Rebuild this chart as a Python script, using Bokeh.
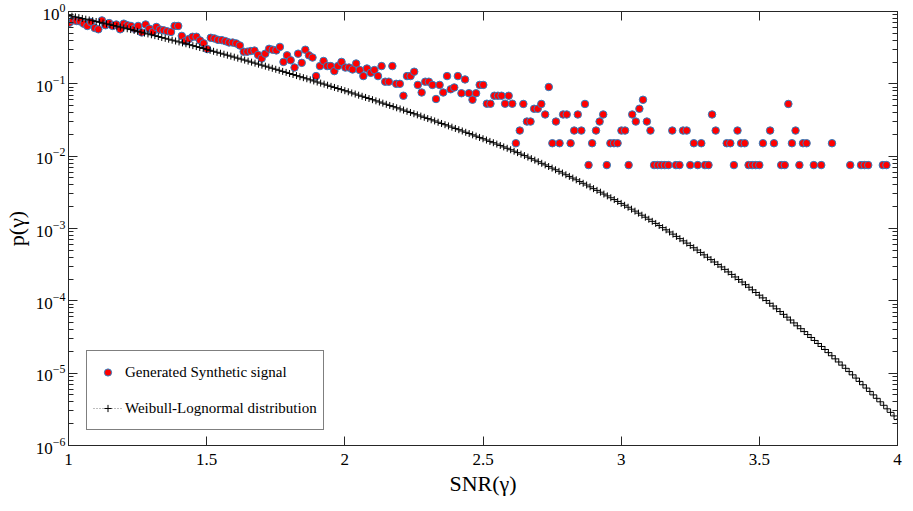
import numpy as np
from bokeh.plotting import figure
from bokeh.models import (LinearAxis, LogAxis, FixedTicker, Legend, LegendItem,
                          Range1d, CustomJSTickFormatter, LogTickFormatter)
from bokeh.embed import file_html
from bokeh.resources import INLINE

# ---------------- data ----------------
x_ticks = [1, 1.5, 2, 2.5, 3, 3.5, 4]
x_tick_labels = ["1", "1.5", "2", "2.5", "3", "3.5", "4"]
y_ticks = [1e-6, 1e-5, 1e-4, 1e-3, 1e-2, 1e-1, 1e0]

wl_x = np.linspace(1, 4, 241)
wl_log10p = [
    -0.055, -0.065, -0.075, -0.085, -0.096, -0.106, -0.117, -0.127, -0.138, -0.149, -0.160,
    -0.171, -0.182, -0.193, -0.204, -0.216, -0.227, -0.239, -0.250, -0.262, -0.274,
    -0.286, -0.298, -0.310, -0.322, -0.334, -0.346, -0.359, -0.371, -0.383, -0.396,
    -0.408, -0.421, -0.434, -0.446, -0.459, -0.472, -0.485, -0.498, -0.511, -0.524,
    -0.537, -0.550, -0.564, -0.577, -0.590, -0.604, -0.617, -0.631, -0.645, -0.658,
    -0.672, -0.686, -0.700, -0.714, -0.728, -0.742, -0.756, -0.770, -0.785, -0.799,
    -0.813, -0.828, -0.842, -0.857, -0.871, -0.886, -0.901, -0.915, -0.930, -0.945,
    -0.960, -0.975, -0.990, -1.004, -1.019, -1.035, -1.050, -1.065, -1.080, -1.095,
    -1.110, -1.126, -1.141, -1.157, -1.172, -1.188, -1.203, -1.219, -1.235, -1.251,
    -1.267, -1.283, -1.299, -1.315, -1.331, -1.347, -1.363, -1.380, -1.396, -1.413,
    -1.429, -1.446, -1.463, -1.480, -1.497, -1.513, -1.531, -1.548, -1.565, -1.582,
    -1.599, -1.617, -1.634, -1.652, -1.670, -1.687, -1.705, -1.723, -1.741, -1.759,
    -1.777, -1.796, -1.814, -1.833, -1.852, -1.872, -1.891, -1.911, -1.931, -1.951,
    -1.972, -1.992, -2.013, -2.034, -2.055, -2.077, -2.099, -2.121, -2.143, -2.165,
    -2.188, -2.210, -2.233, -2.257, -2.280, -2.303, -2.327, -2.351, -2.375, -2.399,
    -2.424, -2.449, -2.473, -2.498, -2.524, -2.549, -2.575, -2.600, -2.626, -2.653,
    -2.679, -2.706, -2.733, -2.760, -2.788, -2.816, -2.844, -2.872, -2.901, -2.930,
    -2.959, -2.988, -3.018, -3.048, -3.078, -3.109, -3.140, -3.171, -3.202, -3.234,
    -3.266, -3.298, -3.331, -3.364, -3.397, -3.430, -3.463, -3.497, -3.531, -3.565,
    -3.600, -3.635, -3.670, -3.705, -3.740, -3.776, -3.812, -3.848, -3.885, -3.922,
    -3.959, -3.996, -4.034, -4.072, -4.110, -4.148, -4.187, -4.226, -4.265, -4.305,
    -4.345, -4.385, -4.425, -4.466, -4.507, -4.548, -4.590, -4.631, -4.673, -4.716,
    -4.759, -4.802, -4.845, -4.889, -4.933, -4.978, -5.023, -5.068, -5.114, -5.160,
    -5.206, -5.253, -5.300, -5.348, -5.396, -5.444, -5.493, -5.542, -5.591, -5.641,
]
wl_p = [10 ** v for v in wl_log10p]

# Generated synthetic signal (histogram estimate), bins with zero count are absent
sig_x = [
    1.003, 1.016, 1.029, 1.042, 1.055, 1.068, 1.081, 1.095, 1.108, 1.121,
    1.134, 1.147, 1.160, 1.173, 1.187, 1.200, 1.213, 1.226, 1.239, 1.252,
    1.265, 1.279, 1.292, 1.305, 1.318, 1.331, 1.344, 1.357, 1.371, 1.384,
    1.397, 1.410, 1.423, 1.436, 1.449, 1.463, 1.476, 1.489, 1.502, 1.515,
    1.528, 1.541, 1.555, 1.568, 1.581, 1.594, 1.607, 1.620, 1.634, 1.647,
    1.660, 1.673, 1.686, 1.699, 1.712, 1.726, 1.739, 1.752, 1.765, 1.778,
    1.791, 1.804, 1.818, 1.831, 1.844, 1.857, 1.870, 1.883, 1.896, 1.910,
    1.923, 1.936, 1.949, 1.962, 1.975, 1.988, 2.002, 2.015, 2.028, 2.041,
    2.054, 2.067, 2.080, 2.094, 2.107, 2.120, 2.133, 2.146, 2.159, 2.172,
    2.186, 2.199, 2.212, 2.225, 2.238, 2.251, 2.264, 2.278, 2.291, 2.304,
    2.317, 2.330, 2.343, 2.356, 2.370, 2.383, 2.396, 2.409, 2.422, 2.435,
    2.449, 2.462, 2.475, 2.488, 2.501, 2.514, 2.527, 2.541, 2.554, 2.567,
    2.580, 2.593, 2.606, 2.619, 2.633, 2.646, 2.659, 2.672, 2.685, 2.698,
    2.711, 2.725, 2.738, 2.751, 2.764, 2.777, 2.790, 2.803, 2.817, 2.830,
    2.843, 2.856, 2.869, 2.882, 2.895, 2.909, 2.922, 2.935, 2.948, 2.961,
    2.974, 2.987, 3.001, 3.014, 3.027, 3.040, 3.053, 3.066, 3.079, 3.093,
    3.106, 3.119, 3.132, 3.145, 3.158, 3.171, 3.185, 3.198, 3.211, 3.224,
    3.237, 3.250, 3.263, 3.277, 3.290, 3.303, 3.316, 3.329, 3.342, 3.382,
    3.395, 3.408, 3.421, 3.434, 3.447, 3.461, 3.474, 3.487, 3.500, 3.513,
    3.539, 3.553, 3.579, 3.592, 3.605, 3.618, 3.631, 3.645, 3.658, 3.671,
    3.697, 3.724, 3.763, 3.829, 3.868, 3.881, 3.894, 3.947, 3.960,
]
sig_p = [
    0.700, 0.753, 0.741, 0.729, 0.679, 0.631, 0.714, 0.592, 0.568, 0.753,
    0.646, 0.692, 0.631, 0.661, 0.568, 0.679, 0.646, 0.631, 0.579, 0.631,
    0.513, 0.661, 0.579, 0.522, 0.611, 0.562, 0.550, 0.533, 0.522, 0.631,
    0.631, 0.460, 0.389, 0.417, 0.447, 0.447, 0.398, 0.363, 0.302, 0.433,
    0.424, 0.406, 0.402, 0.389, 0.373, 0.372, 0.362, 0.339, 0.278, 0.278,
    0.284, 0.288, 0.251, 0.224, 0.261, 0.305, 0.296, 0.290, 0.324, 0.201,
    0.248, 0.212, 0.168, 0.261, 0.195, 0.296, 0.248, 0.231, 0.128, 0.176,
    0.207, 0.176, 0.176, 0.150, 0.176, 0.201, 0.168, 0.168, 0.158, 0.191,
    0.155, 0.128, 0.163, 0.142, 0.155, 0.128, 0.176, 0.107, 0.107, 0.176,
    0.100, 0.100, 0.0684, 0.128, 0.128, 0.147, 0.0966, 0.0759, 0.107, 0.107,
    0.0966, 0.0617, 0.0966, 0.0759, 0.128, 0.0841, 0.0891, 0.128, 0.0741, 0.115,
    0.0741, 0.0603, 0.0741, 0.0966, 0.0966, 0.0531, 0.0531, 0.0684, 0.0684, 0.0684,
    0.0531, 0.0684, 0.0531, 0.0151, 0.0226, 0.0527, 0.0301, 0.0301, 0.0452, 0.0452,
    0.0527, 0.0377, 0.0904, 0.0151, 0.0301, 0.0151, 0.0377, 0.0377, 0.0151, 0.0226,
    0.0377, 0.0226, 0.0527, 0.00753, 0.0151, 0.0226, 0.0301, 0.0377, 0.00753, 0.0151,
    0.0151, 0.0151, 0.0226, 0.0226, 0.00753, 0.0377, 0.0301, 0.0452, 0.0602, 0.0301,
    0.0226, 0.00753, 0.00753, 0.00753, 0.00753, 0.00753, 0.0226, 0.00753, 0.00753, 0.0226,
    0.0226, 0.00753, 0.0151, 0.00753, 0.0151, 0.00753, 0.00753, 0.0377, 0.0226, 0.0151,
    0.0151, 0.00753, 0.0226, 0.0151, 0.0151, 0.00753, 0.00753, 0.00753, 0.00753, 0.0151,
    0.0226, 0.0151, 0.00753, 0.00753, 0.0527, 0.0151, 0.0226, 0.00753, 0.0151, 0.0151,
    0.00753, 0.00753, 0.0151, 0.00753, 0.00753, 0.00753, 0.00753, 0.00753, 0.00753,
]

# ---------------- figure ----------------
FONT = "Liberation Serif"
AX = "#262626"

p = figure(width=905, height=503, x_range=Range1d(1, 4), y_range=Range1d(1e-6, 1),
           y_axis_type="log", output_backend="svg", toolbar_location=None,
           min_border_left=62, min_border_right=8, min_border_top=11, min_border_bottom=58)
p.xgrid.visible = False
p.ygrid.visible = False
p.outline_line_color = AX
p.background_fill_color = "white"
p.border_fill_color = "white"

y_minor = [m * 10.0 ** e for e in range(-6, 0) for m in range(2, 10)]

xax = p.xaxis[0]
xax.ticker = FixedTicker(ticks=x_ticks)
xax.major_label_overrides = {t: l for t, l in zip(x_ticks, x_tick_labels)}
yax = p.yaxis[0]
yax.ticker = FixedTicker(ticks=y_ticks, minor_ticks=y_minor)
yax.formatter = LogTickFormatter()

top = LinearAxis(ticker=FixedTicker(ticks=x_ticks),
                 formatter=CustomJSTickFormatter(code="return ''"))
right = LogAxis(ticker=FixedTicker(ticks=y_ticks, minor_ticks=y_minor),
                formatter=CustomJSTickFormatter(code="return ''"))
p.add_layout(top, "above")
p.add_layout(right, "right")

for ax in (xax, top):
    ax.minor_tick_line_color = None
for ax in (yax, right):
    ax.minor_tick_in = 5
    ax.minor_tick_out = 0
    ax.minor_tick_line_color = AX
for ax in (xax, yax, top, right):
    ax.major_tick_in = 9
    ax.major_tick_out = 0
    ax.axis_line_color = AX
    ax.major_tick_line_color = AX
    ax.major_label_text_font = FONT
    ax.major_label_text_font_size = "17px"
    ax.major_label_text_color = "black"
    ax.major_label_text_line_height = 1.0
for ax in (top, right):
    ax.major_label_standoff = 0

xax.major_label_standoff = 8
yax.major_label_standoff = 3
xax.axis_label = "SNR(γ)"
yax.axis_label = "p(γ)"
for ax in (xax, yax):
    ax.axis_label_text_font = FONT
    ax.axis_label_text_font_size = "22px"
    ax.axis_label_text_font_style = "normal"
    ax.axis_label_text_color = "black"
xax.axis_label_standoff = 3
yax.axis_label_standoff = 4

sc = p.scatter(sig_x, sig_p, marker="circle", size=7.5, fill_color="#ff0000",
               line_color="#2f7fc1", line_width=1)
ln = p.line(wl_x, wl_p, line_color="#444444", line_width=0.7, line_dash="1 2")
cr = p.scatter(wl_x, wl_p, marker="cross", size=7, line_color="black", line_width=1)

legend = Legend(items=[
    LegendItem(label="Generated Synthetic signal", renderers=[sc]),
    LegendItem(label="Weibull-Lognormal distribution", renderers=[ln, cr]),
], location=(18, 15))
legend.label_text_font = FONT
legend.label_text_font_size = "15px"
legend.label_text_color = "black"
legend.glyph_width = 29
legend.glyph_height = 18
legend.label_height = 30
legend.label_standoff = 3
legend.padding = 6
legend.spacing = 6
legend.margin = 0
legend.border_line_color = "black"
legend.border_line_width = 1
legend.background_fill_color = "white"
legend.background_fill_alpha = 1
p.add_layout(legend)

open("out.html", "w").write(file_html(p, INLINE))
